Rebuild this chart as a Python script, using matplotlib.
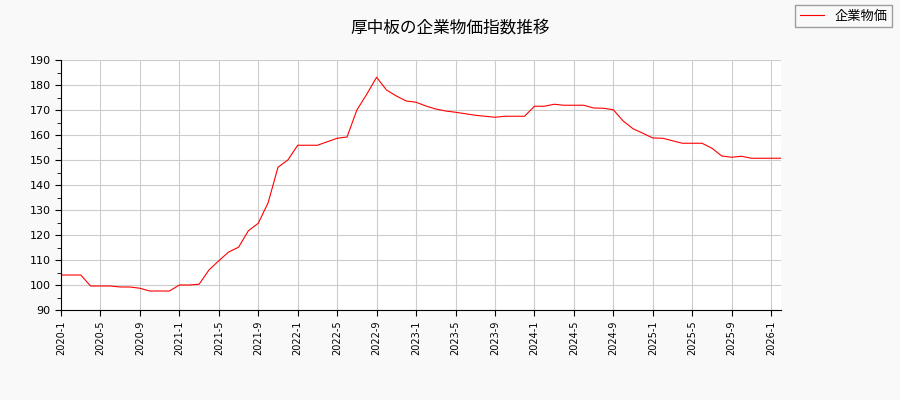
import matplotlib
matplotlib.use("Agg")
import matplotlib.pyplot as plt
from matplotlib.ticker import MultipleLocator

plt.rcParams['font.family'] = ['Noto Sans CJK JP', 'DejaVu Sans']

title = "厚中板の企業物価指数推移"
series_name = "企業物価"

# monthly values from 2020-1 to 2026-2
start_year, start_month = 2020, 1
values = [
    104.0, 104.0, 104.0, 99.6, 99.6, 99.6, 99.2, 99.2, 98.7, 97.6, 97.6, 97.6,   # 2020
    100.0, 100.0, 100.3, 106.0, 109.7, 113.2, 115.1, 121.7, 124.7, 132.9, 147.1, 150.0,  # 2021
    155.9, 155.9, 155.9, 157.3, 158.7, 159.2, 170.0, 176.3, 183.1, 178.0, 175.6, 173.6,  # 2022
    173.1, 171.6, 170.4, 169.6, 169.1, 168.5, 167.9, 167.5, 167.1, 167.5, 167.5, 167.5,  # 2023
    171.5, 171.5, 172.3, 171.9, 171.9, 171.9, 170.8, 170.7, 170.1, 165.6, 162.5, 160.7,  # 2024
    158.8, 158.7, 157.7, 156.7, 156.7, 156.7, 154.7, 151.6, 151.1, 151.5, 150.7, 150.7,  # 2025
    150.7, 150.7,  # 2026
]

x = list(range(len(values)))
tick_pos = list(range(0, len(values), 4))
tick_labels = []
for i in tick_pos:
    y = start_year + (start_month - 1 + i) // 12
    m = (start_month - 1 + i) % 12 + 1
    tick_labels.append(f"{y}-{m}")

fig = plt.figure(figsize=(9, 4), dpi=100, facecolor="#f9f9f9")
ax = fig.add_axes([61/900, 1-310/400, 720/900, 250/400])
ax.set_facecolor("white")

ax.plot(x, values, color="red", linewidth=0.8, label=series_name)

ax.set_xlim(0, len(values) - 1)
ax.set_ylim(90, 190)
ax.yaxis.set_major_locator(MultipleLocator(10))
ax.yaxis.set_minor_locator(MultipleLocator(5))
ax.set_xticks(tick_pos)
ax.set_xticklabels(tick_labels, rotation=90, fontsize=7, family=['DejaVu Sans'])
ax.tick_params(axis='y', labelsize=8, which='major', length=4)
ax.tick_params(axis='y', which='minor', length=3)
ax.tick_params(axis='x', length=4)
for lbl in ax.get_yticklabels():
    lbl.set_family(['DejaVu Sans'])

ax.grid(True, color="#cccccc", linewidth=0.8)
ax.set_axisbelow(True)
ax.spines['top'].set_visible(False)
ax.spines['right'].set_visible(False)

fig.text(0.5, 1-28/400, title, ha='center', va='center', fontsize=12)

leg = fig.legend(loc='upper right', bbox_to_anchor=(892/900, 1-5/400), fontsize=9.5,
                 frameon=True, fancybox=False, edgecolor="#888888",
                 handlelength=1.8, borderpad=0.35, borderaxespad=0)
leg.get_frame().set_facecolor("#f9f9f9")

fig.savefig("out.png", dpi=100, facecolor=fig.get_facecolor())
